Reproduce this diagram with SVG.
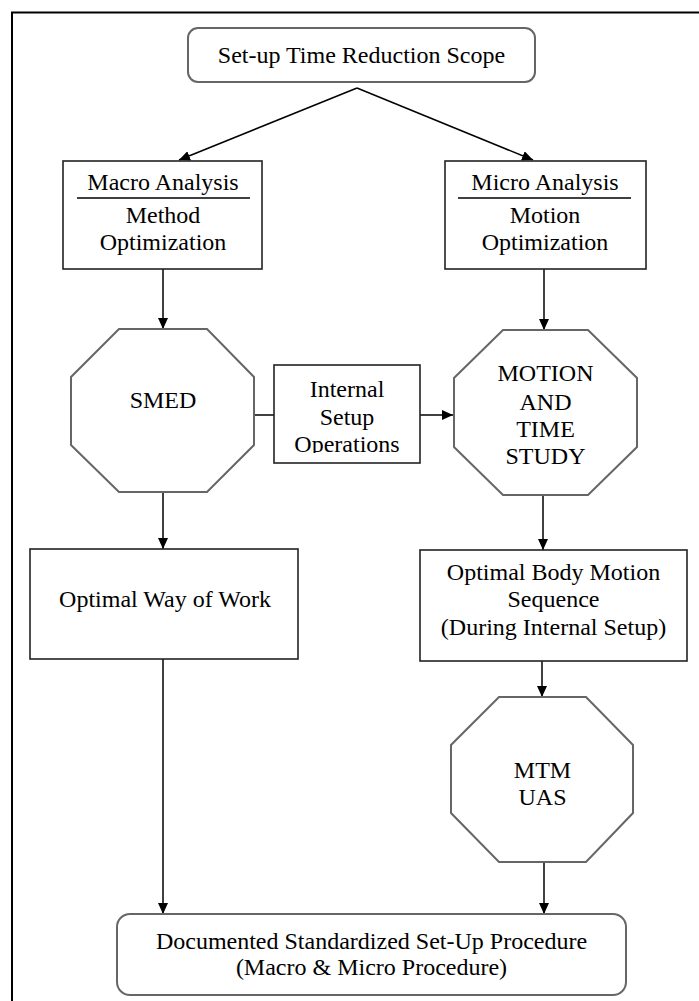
<svg xmlns="http://www.w3.org/2000/svg" width="699" height="1001" viewBox="0 0 699 1001">
<style>
text{font-family:"Liberation Serif","Times New Roman",serif;font-size:24px;fill:#000;text-anchor:middle}
.rect{fill:#fff;stroke:#222;stroke-width:1.6}
.round{fill:#fff;stroke:#666;stroke-width:2}
.oct{fill:#fff;stroke:#666;stroke-width:2}
.conn{stroke:#000;stroke-width:1.5;fill:none}
.arr{marker-end:url(#ah)}
.div{stroke:#000;stroke-width:1.6}
</style>
<defs>
<marker id="ah" viewBox="0 0 11 10" markerWidth="11" markerHeight="10" refX="11" refY="5" orient="auto" markerUnits="userSpaceOnUse">
<path d="M0,0 L11,5 L0,10 z" fill="#000"/>
</marker>
<clipPath id="clipInt"><rect x="274" y="366" width="146" height="87"/></clipPath>
</defs>
<rect width="699" height="1001" fill="#fff"/>
<path d="M12,1001 V12.5 H699" fill="none" stroke="#000" stroke-width="2"/>

<g id="connectors">
<line class="conn arr" x1="357" y1="88" x2="179" y2="160"/>
<line class="conn arr" x1="357" y1="88" x2="533" y2="160"/>
<line class="conn arr" x1="163" y1="269" x2="163" y2="329"/>
<line class="conn arr" x1="544" y1="269" x2="544" y2="330"/>
<line class="conn" x1="254" y1="415" x2="274" y2="415"/>
<line class="conn arr" x1="420" y1="415" x2="453" y2="415"/>
<line class="conn arr" x1="163" y1="492" x2="163" y2="549"/>
<line class="conn arr" x1="543" y1="495" x2="543" y2="550"/>
<line class="conn arr" x1="163" y1="659" x2="163" y2="914"/>
<line class="conn arr" x1="542" y1="661" x2="542" y2="697"/>
<line class="conn arr" x1="544" y1="862" x2="544" y2="914"/>
</g>

<g id="scope">
<rect class="round" x="188" y="28" width="347" height="54" rx="10"/>
<text x="361.5" y="63">Set-up Time Reduction Scope</text>
</g>

<g id="macro">
<rect class="rect" x="63" y="161" width="199" height="108"/>
<text x="163" y="190">Macro Analysis</text>
<line class="div" x1="77" y1="198" x2="250" y2="198"/>
<text x="163" y="223">Method</text>
<text x="163" y="250">Optimization</text>
</g>

<g id="micro">
<rect class="rect" x="445" y="161" width="201" height="108"/>
<text x="545" y="190">Micro Analysis</text>
<line class="div" x1="458" y1="198" x2="631" y2="198"/>
<text x="545" y="223">Motion</text>
<text x="545" y="250">Optimization</text>
</g>

<g id="smed">
<polygon class="oct" points="119,329 207,329 254,377 254,445 207,492 119,492 71,445 71,377"/>
<text x="163" y="408">SMED</text>
</g>

<g id="internal">
<rect class="rect" x="274" y="365" width="146" height="98"/>
<g clip-path="url(#clipInt)">
<text x="347" y="397">Internal</text>
<text x="347" y="425">Setup</text>
<text x="347" y="452">Operations</text>
</g>
</g>

<g id="motion">
<polygon class="oct" points="503,330 588,330 637,378 637,447 588,495 503,495 454,447 454,378"/>
<text x="545.5" y="381">MOTION</text>
<text x="545.5" y="410">AND</text>
<text x="545.5" y="437">TIME</text>
<text x="545.5" y="464">STUDY</text>
</g>

<g id="wayofwork">
<rect class="rect" x="30" y="549" width="268" height="110"/>
<text x="165" y="607">Optimal Way of Work</text>
</g>

<g id="bodymotion">
<rect class="rect" x="420" y="550" width="267" height="111"/>
<text x="553.5" y="580">Optimal Body Motion</text>
<text x="553.5" y="607">Sequence</text>
<text x="553.5" y="635">(During Internal Setup)</text>
</g>

<g id="mtm">
<polygon class="oct" points="499,697 586,697 633,745 633,813 586,862 499,862 451,813 451,745"/>
<text x="542.5" y="778">MTM</text>
<text x="542.5" y="805">UAS</text>
</g>

<g id="documented">
<rect class="round" x="117" y="914" width="509" height="81" rx="13"/>
<text x="371.5" y="949">Documented Standardized Set-Up Procedure</text>
<text x="371.5" y="975">(Macro &amp; Micro Procedure)</text>
</g>
</svg>
